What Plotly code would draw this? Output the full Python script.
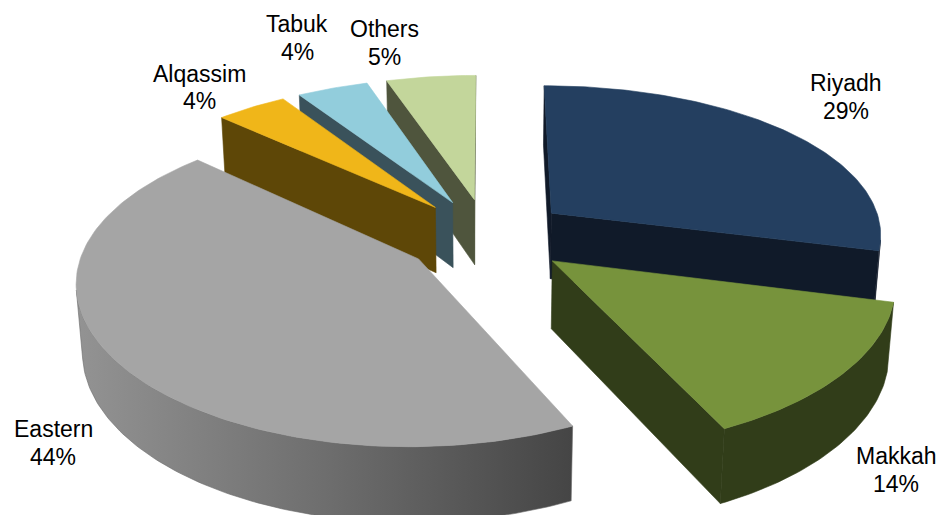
import numpy as np
import plotly.graph_objects as go

# ---- data -------------------------------------------------------------
regions = ["Riyadh", "Makkah", "Eastern", "Alqassim", "Tabuk", "Others"]
shares = [29, 14, 44, 4, 4, 5]

# ---- styling ----------------------------------------------------------
top_colors = ["#243F60", "#77933C", "#A5A5A5", "#F0B619", "#92CDDC", "#C3D69B"]
side_colors = ["#101A29", "#313D19", "#6A6A6A", "#5E4707", "#3A525B", "#4F553D"]
# centre of each two-line label block (screen pixels)
label_pos = [(846, 97), (896, 470), (53, 443), (199, 87.5), (297, 38), (384, 43)]
LINE_GAP = 27.6

W, HGT = 939, 515
CX, CY = 487, 236          # screen position of the pie's top-face centre
SCALE = 332                # pixels per unit radius
TILT = np.radians(27.35)   # camera elevation
DIST_H = 7.0               # horizontal perspective strength
DIST_V = 6.0               # vertical perspective strength
THICK = 0.23               # pie thickness in radius units
PULL = 0.25                # explode distance in radius units


def project(X, Z, Y):
    """Perspective projection of a 3D point (X right, Z towards viewer, Y up)."""
    depth = Y * np.sin(TILT) + Z * np.cos(TILT)
    sh = DIST_H / (DIST_H - depth)
    sv = DIST_V / (DIST_V - depth)
    u = CX + SCALE * X * sh
    v = CY - SCALE * (Y * np.cos(TILT) - Z * np.sin(TILT)) * sv
    return u, v


def signed_area(us, vs):
    us, vs = np.asarray(us), np.asarray(vs)
    return 0.5 * np.sum(us * np.roll(vs, -1) - np.roll(us, -1) * vs)


def poly(us, vs, color, grad=None):
    kw = dict(x=list(us) + [us[0]], y=list(vs) + [vs[0]], mode="lines",
              fill="toself", fillcolor=color,
              line=dict(color=color, width=0.6),
              hoverinfo="skip", showlegend=False)
    if grad is not None:
        kw["fillgradient"] = dict(type="horizontal", colorscale=grad)
    return go.Scatter(**kw)


total = float(sum(shares))
bounds = np.concatenate([[0.0], np.cumsum(shares) / total * 2 * np.pi])

slices = []
for i, name in enumerate(regions):
    t0, t1 = bounds[i], bounds[i + 1]
    mid = 0.5 * (t0 + t1)
    ox, oz = PULL * np.sin(mid), -PULL * np.cos(mid)
    slices.append(dict(i=i, t0=t0, t1=t1, ox=ox, oz=oz, depth=-np.cos(mid)))

fig = go.Figure()

# paint from the back of the scene to the front
for sl in sorted(slices, key=lambda d: d["depth"]):
    i, t0, t1, ox, oz = sl["i"], sl["t0"], sl["t1"], sl["ox"], sl["oz"]
    n = max(8, int(np.degrees(t1 - t0)))
    th = np.linspace(t0, t1, n + 1)
    rx, rz = ox + np.sin(th), oz - np.cos(th)

    top_u, top_v = project(rx, rz, 0.0)
    bot_u, bot_v = project(rx, rz, -THICK)
    ax_t = project(ox, oz, 0.0)
    ax_b = project(ox, oz, -THICK)

    side = side_colors[i]
    grad = None
    if regions[i] == "Eastern":
        grad = [[0, "#939393"], [0.5, "#6E6E6E"], [1, "#454545"]]

    # radial cut faces
    faces = [
        ([ax_t[0], top_u[0], bot_u[0], ax_b[0]],
         [ax_t[1], top_v[0], bot_v[0], ax_b[1]]),
        ([top_u[-1], ax_t[0], ax_b[0], bot_u[-1]],
         [top_v[-1], ax_t[1], ax_b[1], bot_v[-1]]),
    ]
    for us, vs in faces:
        if signed_area(us, vs) < -1.0:
            fig.add_trace(poly(us, vs, side))

    # outer curved wall: keep the segments that face the camera
    vis = []
    for k in range(n):
        qu = [top_u[k], top_u[k + 1], bot_u[k + 1], bot_u[k]]
        qv = [top_v[k], top_v[k + 1], bot_v[k + 1], bot_v[k]]
        vis.append(signed_area(qu, qv) < 0)
    k = 0
    while k < n:
        if vis[k]:
            j = k
            while j < n and vis[j]:
                j += 1
            us = list(top_u[k:j + 1]) + list(bot_u[k:j + 1][::-1])
            vs = list(top_v[k:j + 1]) + list(bot_v[k:j + 1][::-1])
            fig.add_trace(poly(us, vs, side, grad))
            k = j
        else:
            k += 1

    # top face
    us = [ax_t[0]] + list(top_u)
    vs = [ax_t[1]] + list(top_v)
    fig.add_trace(poly(us, vs, top_colors[i]))

label_font = dict(family="Liberation Sans, Arial", size=23, color="#000000")
for name, val, (lx, ly) in zip(regions, shares, label_pos):
    for txt, yy in ((name, ly - LINE_GAP / 2), (f"{val}%", ly + LINE_GAP / 2)):
        fig.add_annotation(x=lx, y=yy, xref="x", yref="y", text=txt,
                           showarrow=False, xanchor="center", yanchor="middle",
                           font=label_font)

fig.update_layout(
    width=W, height=HGT, autosize=False,
    margin=dict(l=0, r=0, t=0, b=0),
    paper_bgcolor="white", plot_bgcolor="white",
    xaxis=dict(range=[0, W], visible=False, fixedrange=True),
    yaxis=dict(range=[HGT, 0], visible=False, fixedrange=True),
)

fig.write_html("out.html")
